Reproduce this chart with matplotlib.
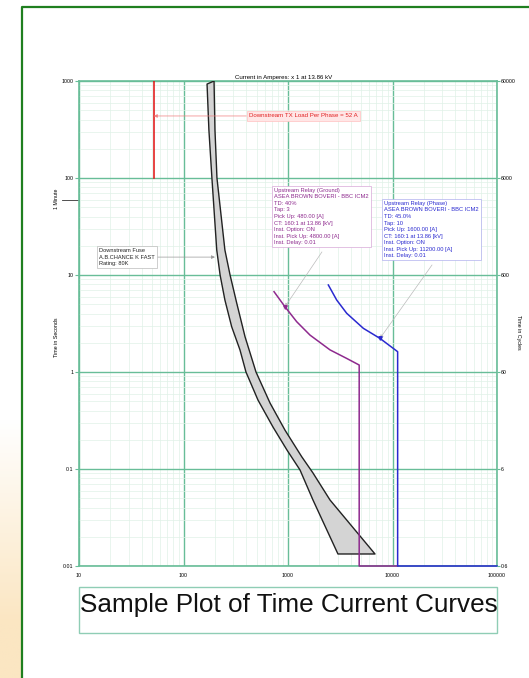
import numpy as np
import matplotlib
matplotlib.use("Agg")
import matplotlib.pyplot as plt
from matplotlib.lines import Line2D
from matplotlib.patches import Rectangle, Polygon
from matplotlib.colors import LinearSegmentedColormap

plt.rcParams['font.family'] = ['Liberation Sans', 'DejaVu Sans']

# ---------------- data ----------------
x_ticks = [10, 100, 1000, 10000, 100000]
x_tick_labels = ["10", "100", "1000", "10000", "100000"]
y_ticks = [0.01, 0.1, 1, 10, 100, 1000]
y_tick_labels = ["0.01", "0.1", "1", "10", "100", "1000"]
cyc_ticks = [0.6, 6, 60, 600, 6000, 60000]
cyc_tick_labels = ["0.6", "6", "60", "600", "6000", "60000"]

# Downstream fuse band (minimum melt / total clearing)
fuse_min_current = [168, 175, 187, 208, 224, 249, 289, 347, 396, 516, 718, 977, 1303, 1734, 3006]
fuse_min_time = [930, 313, 100, 18.1, 10, 5.52, 2.93, 1.69, 1, 0.514, 0.271, 0.157, 0.0977,
                 0.0479, 0.0133]
fuse_clear_current = [196, 200, 209, 249, 279, 323, 388, 494, 673, 935, 1352, 1734, 2524, 6800]
fuse_clear_time = [1000, 313, 100, 18.1, 10, 5.14, 2.31, 1, 0.479, 0.252, 0.134, 0.091,
                   0.0479, 0.0133]

# Upstream relay (ground)
ground_current = [735, 935, 1211, 1625, 2524, 3645, 4800, 4800, 11200]
ground_time = [6.73, 4.71, 3.30, 2.40, 1.69, 1.38, 1.18, 0.01, 0.01]

# Upstream relay (phase)
phase_current = [2432, 2924, 3645, 5260, 7590, 11200, 11200, 100000]
phase_time = [7.89, 5.52, 4.03, 2.82, 2.22, 1.62, 0.01, 0.01]

# Downstream transformer load
tx_current = [52, 52]
tx_time = [100, 1000]

ground_text = ("Upstream Relay (Ground)\nASEA BROWN BOVERI - BBC ICM2\nTD: 40%\nTap: 3\n"
               "Pick Up: 480.00 [A]\nCT: 160:1 at 13.86 [kV]\nInst. Option: ON\n"
               "Inst. Pick Up: 4800.00 [A]\nInst. Delay: 0.01")
phase_text = ("Upstream Relay (Phase)\nASEA BROWN BOVERI - BBC ICM2\nTD: 45.0%\nTap: 10\n"
              "Pick Up: 1600.00 [A]\nCT: 160:1 at 13.86 [kV]\nInst. Option: ON\n"
              "Inst. Pick Up: 11200.00 [A]\nInst. Delay: 0.01")
fuse_text = "Downstream Fuse\nA.B.CHANCE K FAST\nRating: 80K"
tx_text = "Downstream TX Load Per Phase = 52 A"

# ---------------- figure ----------------
W, H = 529, 678
fig = plt.figure(figsize=(W / 100, H / 100), dpi=100)
fig.patch.set_facecolor("white")

# left cream gradient strip
gax = fig.add_axes([0, 0, 22 / W, 1])
g = np.linspace(0, 1, 256)
g = np.clip((g - 0.08) / 0.30, 0, 1)[:, None]
cmap = LinearSegmentedColormap.from_list("cream", ["#fbe6c2", "#ffffff"])
gax.imshow(g, aspect="auto", cmap=cmap, extent=[0, 1, 0, 1], origin="lower")
gax.axis("off")

# green slide frame
fig.add_artist(Line2D([22 / W, 22 / W, 1.0], [0.0, 1 - 7 / H, 1 - 7 / H],
                      transform=fig.transFigure, color="#1f7f1f", lw=1.6))

major_c = "#68bd98"
minor_c = "#e0f1e7"

ax = fig.add_axes([79 / W, 112 / H, 418 / W, 485 / H])
ax.set_xscale("log")
ax.set_yscale("log")
ax.set_xlim(10, 100000)
ax.set_ylim(0.01, 1000)
ax.grid(True, which="minor", color=minor_c, lw=0.5)
ax.grid(True, which="major", color=major_c, lw=1.0)
ax.set_axisbelow(True)
for s in ax.spines.values():
    s.set_color(major_c)
    s.set_linewidth(1.2)
ax.set_xticks(x_ticks)
ax.set_xticklabels(x_tick_labels)
ax.set_yticks(y_ticks)
ax.set_yticklabels(y_tick_labels)
ax.tick_params(axis="x", which="major", length=0, labelsize=3.8, pad=5)
ax.tick_params(axis="y", which="major", length=3, color=major_c, labelsize=3.8, pad=1)
ax.tick_params(which="minor", length=0)

ax2 = ax.twinx()
ax2.set_yscale("log")
ax2.set_ylim(0.6, 60000)
ax2.set_yticks(cyc_ticks)
ax2.set_yticklabels(cyc_tick_labels)
ax2.tick_params(axis="y", which="major", length=2, color=major_c, labelsize=3.8, pad=1)
ax2.tick_params(which="minor", length=0, right=False)
for s in ax2.spines.values():
    s.set_visible(False)

# fuse band
poly_x = list(fuse_min_current) + list(fuse_clear_current[::-1])
poly_y = list(fuse_min_time) + list(fuse_clear_time[::-1])
ax.add_patch(Polygon(np.column_stack([poly_x, poly_y]), closed=True,
                     facecolor="#d4d4d4", edgecolor="#222222", lw=1.0, zorder=3,
                     joinstyle="round"))

# relays
ax.plot(ground_current, ground_time, color="#8e2a8e", lw=1.1, zorder=4, clip_on=False)
ax.plot(phase_current, phase_time, color="#2a2ad0", lw=1.1, zorder=4, clip_on=False)

# transformer load
ax.plot(tx_current, tx_time, color="#e01010", lw=1.1, zorder=4)

# annotations
ax.annotate(tx_text, xy=(52, 436), xytext=(1393, 436), fontsize=4.4, color="#e02020",
            ha="center", va="center",
            bbox=dict(boxstyle="square,pad=0.35", fc="#ffe6e6", ec="#ffc0c0", lw=0.5),
            arrowprops=dict(arrowstyle="-|>", color="#f08080", lw=0.5, mutation_scale=5,
                            shrinkA=0, shrinkB=0), zorder=5)

ax.annotate(fuse_text, xy=(200, 15.3), xytext=(15.5, 15.3), fontsize=4.1, color="#222222",
            ha="left", va="center", linespacing=1.35,
            bbox=dict(boxstyle="square,pad=0.4", fc="white", ec="#bbbbbb", lw=0.5),
            arrowprops=dict(arrowstyle="-|>", color="#999999", lw=0.5, mutation_scale=5,
                            shrinkA=0, shrinkB=0), zorder=5)

ax.text(740, 79, ground_text, fontsize=4.15, color="#8e2a8e", ha="left", va="top",
        linespacing=1.38, zorder=5,
        bbox=dict(boxstyle="square,pad=0.4", fc="white", ec="#d8a8d8", lw=0.5))
ax.annotate("", xy=(935, 4.7), xytext=(2113, 17.3),
            arrowprops=dict(arrowstyle="-|>", color="#bbbbbb", lw=0.5, mutation_scale=5,
                            shrinkA=0, shrinkB=0), zorder=5)
ax.plot([935], [4.7], marker="v", color="#8e2a8e", ms=2.5, zorder=6)

ax.text(8300, 58, phase_text, fontsize=4.15, color="#2a2ad0", ha="left", va="top",
        linespacing=1.38, zorder=5,
        bbox=dict(boxstyle="square,pad=0.4", fc="white", ec="#b0b0ee", lw=0.5))
ax.annotate("", xy=(7590, 2.22), xytext=(23900, 12.7),
            arrowprops=dict(arrowstyle="-|>", color="#bbbbbb", lw=0.5, mutation_scale=5,
                            shrinkA=0, shrinkB=0), zorder=5)
ax.plot([7590], [2.22], marker="v", color="#2a2ad0", ms=2.5, zorder=6)

# 1 minute marker
ax.plot([10 ** (1 - 17 / 104.5), 10], [60, 60], color="#333333", lw=0.6, clip_on=False)

# axis texts
fig.text(284 / W, 1 - 77 / H, "Current in Amperes: x 1 at 13.86 kV", fontsize=4.4,
         ha="center", va="center")
fig.text(56 / W, 1 - 199 / H, "1 Minute", fontsize=3.8, rotation=90, ha="center", va="center")
fig.text(57 / W, 1 - 337 / H, "Time in Seconds", fontsize=3.8, rotation=90,
         ha="center", va="center")
fig.text(519 / W, 1 - 332 / H, "Time in Cycles", fontsize=3.8, rotation=270,
         ha="center", va="center")

# title box
fig.add_artist(Rectangle((79 / W, 1 - 633 / H), 418 / W, 46 / H, transform=fig.transFigure,
                         fill=False, ec="#8fcdb5", lw=1.0))
fig.text(80 / W, 1 - 612 / H, "Sample Plot of Time Current Curves", fontsize=18.8,
         ha="left", va="baseline", color="#111111")

fig.savefig("out.png", dpi=100)
